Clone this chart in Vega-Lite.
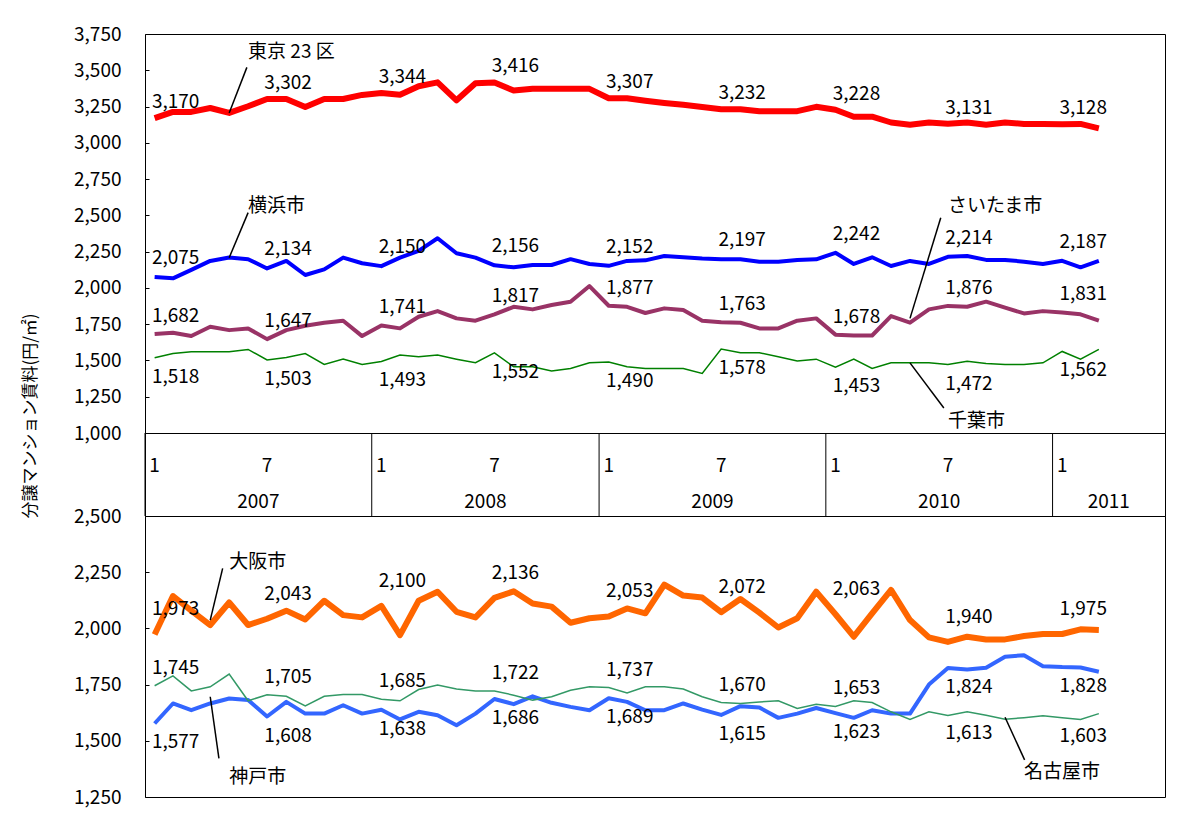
{
  "$schema": "https://vega.github.io/schema/vega-lite/v6.json",
  "background": "white",
  "padding": {"left": 22, "top": 24, "right": 5, "bottom": 5},
  "bounds": "flush",
  "spacing": 0,
  "title": {"text": "分譲マンション賃料(円/㎡)", "orient": "left", "anchor": "middle", "offset": 33, "fontSize": 17, "fontWeight": "normal", "font": "Noto Sans CJK JP", "color": "black"},
  "datasets": {
    "main": [
      {"d":"2007-01-01","tk":3170,"yk":2075,"sa":1682,"cb":1518,"os":1973,"ng":1745,"kb":1577},
      {"d":"2007-02-01","tk":3213,"yk":2066,"sa":1691,"cb":1548,"os":2144,"ng":1789,"kb":1666},
      {"d":"2007-03-01","tk":3213,"yk":2124,"sa":1668,"cb":1560,"os":2079,"ng":1722,"kb":1636},
      {"d":"2007-04-01","tk":3240,"yk":2186,"sa":1732,"cb":1560,"os":2015,"ng":1740,"kb":1666},
      {"d":"2007-05-01","tk":3206,"yk":2209,"sa":1709,"cb":1560,"os":2115,"ng":1797,"kb":1688},
      {"d":"2007-06-01","tk":3252,"yk":2198,"sa":1721,"cb":1576,"os":2015,"ng":1678,"kb":1681},
      {"d":"2007-07-01","tk":3302,"yk":2134,"sa":1647,"cb":1503,"os":2043,"ng":1705,"kb":1608},
      {"d":"2007-08-01","tk":3302,"yk":2186,"sa":1709,"cb":1520,"os":2079,"ng":1698,"kb":1673},
      {"d":"2007-09-01","tk":3247,"yk":2089,"sa":1739,"cb":1548,"os":2040,"ng":1655,"kb":1621},
      {"d":"2007-10-01","tk":3302,"yk":2128,"sa":1760,"cb":1472,"os":2123,"ng":1698,"kb":1621},
      {"d":"2007-11-01","tk":3302,"yk":2209,"sa":1774,"cb":1509,"os":2059,"ng":1706,"kb":1658},
      {"d":"2007-12-01","tk":3330,"yk":2170,"sa":1668,"cb":1472,"os":2049,"ng":1706,"kb":1621},
      {"d":"2008-01-01","tk":3344,"yk":2150,"sa":1741,"cb":1493,"os":2100,"ng":1685,"kb":1638},
      {"d":"2008-02-01","tk":3332,"yk":2209,"sa":1721,"cb":1537,"os":1970,"ng":1678,"kb":1595},
      {"d":"2008-03-01","tk":3390,"yk":2255,"sa":1801,"cb":1525,"os":2123,"ng":1728,"kb":1629},
      {"d":"2008-04-01","tk":3417,"yk":2342,"sa":1840,"cb":1537,"os":2163,"ng":1748,"kb":1614},
      {"d":"2008-05-01","tk":3293,"yk":2239,"sa":1790,"cb":1509,"os":2074,"ng":1730,"kb":1569},
      {"d":"2008-06-01","tk":3410,"yk":2209,"sa":1774,"cb":1484,"os":2049,"ng":1721,"kb":1621},
      {"d":"2008-07-01","tk":3416,"yk":2156,"sa":1817,"cb":1552,"os":2136,"ng":1722,"kb":1686},
      {"d":"2008-08-01","tk":3360,"yk":2142,"sa":1870,"cb":1456,"os":2165,"ng":1703,"kb":1663},
      {"d":"2008-09-01","tk":3372,"yk":2158,"sa":1852,"cb":1456,"os":2111,"ng":1681,"kb":1698},
      {"d":"2008-10-01","tk":3372,"yk":2158,"sa":1882,"cb":1428,"os":2097,"ng":1696,"kb":1669},
      {"d":"2008-11-01","tk":3372,"yk":2198,"sa":1905,"cb":1445,"os":2025,"ng":1725,"kb":1651},
      {"d":"2008-12-01","tk":3372,"yk":2165,"sa":2013,"cb":1484,"os":2045,"ng":1740,"kb":1636},
      {"d":"2009-01-01","tk":3307,"yk":2152,"sa":1877,"cb":1490,"os":2053,"ng":1737,"kb":1689},
      {"d":"2009-02-01","tk":3307,"yk":2186,"sa":1870,"cb":1456,"os":2089,"ng":1713,"kb":1673},
      {"d":"2009-03-01","tk":3290,"yk":2190,"sa":1827,"cb":1445,"os":2067,"ng":1740,"kb":1636},
      {"d":"2009-04-01","tk":3275,"yk":2220,"sa":1859,"cb":1445,"os":2195,"ng":1740,"kb":1636},
      {"d":"2009-05-01","tk":3262,"yk":2211,"sa":1847,"cb":1445,"os":2146,"ng":1730,"kb":1666},
      {"d":"2009-06-01","tk":3247,"yk":2202,"sa":1774,"cb":1410,"os":2137,"ng":1696,"kb":1639},
      {"d":"2009-07-01","tk":3232,"yk":2197,"sa":1763,"cb":1578,"os":2072,"ng":1670,"kb":1615},
      {"d":"2009-08-01","tk":3232,"yk":2197,"sa":1760,"cb":1553,"os":2131,"ng":1666,"kb":1654},
      {"d":"2009-09-01","tk":3218,"yk":2181,"sa":1721,"cb":1553,"os":2070,"ng":1673,"kb":1648},
      {"d":"2009-10-01","tk":3218,"yk":2181,"sa":1721,"cb":1525,"os":2004,"ng":1678,"kb":1602},
      {"d":"2009-11-01","tk":3218,"yk":2193,"sa":1774,"cb":1497,"os":2045,"ng":1644,"kb":1621},
      {"d":"2009-12-01","tk":3248,"yk":2197,"sa":1790,"cb":1509,"os":2163,"ng":1663,"kb":1646},
      {"d":"2010-01-01","tk":3228,"yk":2242,"sa":1678,"cb":1453,"os":2063,"ng":1653,"kb":1623},
      {"d":"2010-02-01","tk":3180,"yk":2165,"sa":1672,"cb":1509,"os":1963,"ng":1678,"kb":1602},
      {"d":"2010-03-01","tk":3180,"yk":2211,"sa":1672,"cb":1445,"os":2067,"ng":1670,"kb":1636},
      {"d":"2010-04-01","tk":3140,"yk":2151,"sa":1806,"cb":1484,"os":2171,"ng":1629,"kb":1621},
      {"d":"2010-05-01","tk":3125,"yk":2186,"sa":1760,"cb":1484,"os":2037,"ng":1595,"kb":1621},
      {"d":"2010-06-01","tk":3140,"yk":2165,"sa":1852,"cb":1484,"os":1960,"ng":1629,"kb":1750},
      {"d":"2010-07-01","tk":3131,"yk":2214,"sa":1876,"cb":1472,"os":1940,"ng":1613,"kb":1824},
      {"d":"2010-08-01","tk":3140,"yk":2220,"sa":1870,"cb":1495,"os":1963,"ng":1629,"kb":1817},
      {"d":"2010-09-01","tk":3125,"yk":2193,"sa":1905,"cb":1479,"os":1951,"ng":1614,"kb":1825},
      {"d":"2010-10-01","tk":3140,"yk":2193,"sa":1864,"cb":1472,"os":1951,"ng":1596,"kb":1874},
      {"d":"2010-11-01","tk":3130,"yk":2181,"sa":1824,"cb":1472,"os":1966,"ng":1603,"kb":1881},
      {"d":"2010-12-01","tk":3130,"yk":2165,"sa":1840,"cb":1484,"os":1975,"ng":1611,"kb":1832},
      {"d":"2011-01-01","tk":3128,"yk":2187,"sa":1831,"cb":1562,"os":1975,"ng":1603,"kb":1828},
      {"d":"2011-02-01","tk":3130,"yk":2142,"sa":1818,"cb":1509,"os":1996,"ng":1595,"kb":1826},
      {"d":"2011-03-01","tk":3100,"yk":2186,"sa":1774,"cb":1576,"os":1993,"ng":1621,"kb":1807}
    ],
    "years": [
      {"year":"2007","start":"2007-01-01","end":"2008-01-01"},
      {"year":"2008","start":"2008-01-01","end":"2009-01-01"},
      {"year":"2009","start":"2009-01-01","end":"2010-01-01"},
      {"year":"2010","start":"2010-01-01","end":"2011-01-01"},
      {"year":"2011","start":"2011-01-01","end":"2011-07-01"}
    ],
    "annTop": [
      {"t":"東京 23 区","d":"2007-06-13","v":3624,"d1":"2007-05-14","v1":3206,"d2":"2007-06-14","v2":3520},
      {"t":"横浜市","d":"2007-06-13","v":2567,"d1":"2007-05-19","v1":2208,"d2":"2007-06-16","v2":2519},
      {"t":"さいたま市","d":"2010-07-04","v":2567,"d1":"2010-05-01","v1":1790,"d2":"2010-07-05","v2":2484},
      {"t":"千葉市","d":"2010-07-16","v":1082,"d1":"2010-05-29","v1":1483,"d2":"2010-07-10","v2":1172}
    ],
    "annBot": [
      {"t":"大阪市","d":"2007-05-05","v":2297,"d1":"2007-04-04","v1":2037,"d2":"2007-05-06","v2":2267},
      {"t":"神戸市","d":"2007-05-06","v":1340,"d1":"2007-04-01","v1":1696,"d2":"2007-04-30","v2":1422},
      {"t":"名古屋市","d":"2010-11-12","v":1361,"d1":"2010-10-12","v1":1605,"d2":"2010-11-17","v2":1415}
    ]
  },
  "vconcat": [
    {
      "width": 1020,
      "height": 399,
      "data": {"name": "main"},
      "encoding": {
        "x": {"field": "d", "type": "temporal", "timeUnit": "utcyearmonth", "bandPosition": 0.5,
              "scale": {"type": "utc", "nice": false, "domain": [{"year": 2007, "month": 1, "date": 1, "utc": true}, {"year": 2011, "month": 7, "date": 1, "utc": true}]},
              "axis": null}
      },
      "layer": [
        {"mark": {"type": "line", "color": "#008000", "strokeWidth": 1.5},
         "encoding": {"y": {"field": "cb", "type": "quantitative",
           "scale": {"domain": [1000, 3750], "nice": false, "zero": false},
           "axis": {"values": [1000,1250,1500,1750,2000,2250,2500,2750,3000,3250,3500,3750], "format": ",.0f", "title": null, "ticks": false, "domain": false, "labelPadding": 24, "labelOverlap": false, "grid": true, "gridDash": [4, 3000], "gridColor": "black", "gridOpacity": 1, "gridWidth": 1}}}},
        {"mark": {"type": "line", "color": "#993366", "strokeWidth": 4, "strokeJoin": "round"},
         "encoding": {"y": {"field": "sa", "type": "quantitative", "axis": {"values": [1000,1250,1500,1750,2000,2250,2500,2750,3000,3250,3500,3750], "format": ",.0f", "title": null, "ticks": false, "domain": false, "labelPadding": 24, "labelOverlap": false, "grid": true, "gridDash": [4, 3000], "gridColor": "black", "gridOpacity": 1, "gridWidth": 1}}}},
        {"mark": {"type": "line", "color": "#0000FF", "strokeWidth": 4, "strokeJoin": "round"},
         "encoding": {"y": {"field": "yk", "type": "quantitative", "axis": {"values": [1000,1250,1500,1750,2000,2250,2500,2750,3000,3250,3500,3750], "format": ",.0f", "title": null, "ticks": false, "domain": false, "labelPadding": 24, "labelOverlap": false, "grid": true, "gridDash": [4, 3000], "gridColor": "black", "gridOpacity": 1, "gridWidth": 1}}}},
        {"mark": {"type": "line", "color": "#FF0000", "strokeWidth": 6, "strokeJoin": "round"},
         "encoding": {"y": {"field": "tk", "type": "quantitative", "axis": {"values": [1000,1250,1500,1750,2000,2250,2500,2750,3000,3250,3500,3750], "format": ",.0f", "title": null, "ticks": false, "domain": false, "labelPadding": 24, "labelOverlap": false, "grid": true, "gridDash": [4, 3000], "gridColor": "black", "gridOpacity": 1, "gridWidth": 1}}}},
        {"transform": [{"filter": "utcmonth(datum.d) == 0 || utcmonth(datum.d) == 6"}],
         "mark": {"type": "text", "dx": 21, "dy": -16},
         "encoding": {"y": {"field": "tk", "type": "quantitative", "axis": {"values": [1000,1250,1500,1750,2000,2250,2500,2750,3000,3250,3500,3750], "format": ",.0f", "title": null, "ticks": false, "domain": false, "labelPadding": 24, "labelOverlap": false, "grid": true, "gridDash": [4, 3000], "gridColor": "black", "gridOpacity": 1, "gridWidth": 1}}, "text": {"field": "tk", "format": ","}}},
        {"transform": [{"filter": "utcmonth(datum.d) == 0 || utcmonth(datum.d) == 6"}],
         "mark": {"type": "text", "dx": 21, "dy": -19},
         "encoding": {"y": {"field": "yk", "type": "quantitative", "axis": {"values": [1000,1250,1500,1750,2000,2250,2500,2750,3000,3250,3500,3750], "format": ",.0f", "title": null, "ticks": false, "domain": false, "labelPadding": 24, "labelOverlap": false, "grid": true, "gridDash": [4, 3000], "gridColor": "black", "gridOpacity": 1, "gridWidth": 1}}, "text": {"field": "yk", "format": ","}}},
        {"transform": [{"filter": "utcmonth(datum.d) == 0 || utcmonth(datum.d) == 6"}],
         "mark": {"type": "text", "dx": 21, "dy": -18},
         "encoding": {"y": {"field": "sa", "type": "quantitative", "axis": {"values": [1000,1250,1500,1750,2000,2250,2500,2750,3000,3250,3500,3750], "format": ",.0f", "title": null, "ticks": false, "domain": false, "labelPadding": 24, "labelOverlap": false, "grid": true, "gridDash": [4, 3000], "gridColor": "black", "gridOpacity": 1, "gridWidth": 1}}, "text": {"field": "sa", "format": ","}}},
        {"transform": [{"filter": "utcmonth(datum.d) == 0 || utcmonth(datum.d) == 6"}],
         "mark": {"type": "text", "dx": 21, "dy": 19},
         "encoding": {"y": {"field": "cb", "type": "quantitative", "axis": {"values": [1000,1250,1500,1750,2000,2250,2500,2750,3000,3250,3500,3750], "format": ",.0f", "title": null, "ticks": false, "domain": false, "labelPadding": 24, "labelOverlap": false, "grid": true, "gridDash": [4, 3000], "gridColor": "black", "gridOpacity": 1, "gridWidth": 1}}, "text": {"field": "cb", "format": ","}}},
        {"data": {"name": "annTop"},
         "mark": {"type": "rule", "color": "black", "strokeWidth": 1.5},
         "encoding": {"x": {"field": "d1", "type": "temporal"}, "x2": {"field": "d2"}, "y": {"field": "v1", "type": "quantitative", "axis": {"values": [1000,1250,1500,1750,2000,2250,2500,2750,3000,3250,3500,3750], "format": ",.0f", "title": null, "ticks": false, "domain": false, "labelPadding": 24, "labelOverlap": false, "grid": true, "gridDash": [4, 3000], "gridColor": "black", "gridOpacity": 1, "gridWidth": 1}}, "y2": {"field": "v2"}}},
        {"data": {"name": "annTop"},
         "mark": {"type": "text", "align": "left", "baseline": "middle"},
         "encoding": {"x": {"field": "d", "type": "temporal"}, "y": {"field": "v", "type": "quantitative", "axis": {"values": [1000,1250,1500,1750,2000,2250,2500,2750,3000,3250,3500,3750], "format": ",.0f", "title": null, "ticks": false, "domain": false, "labelPadding": 24, "labelOverlap": false, "grid": true, "gridDash": [4, 3000], "gridColor": "black", "gridOpacity": 1, "gridWidth": 1}}, "text": {"field": "t"}}}
      ]
    },
    {
      "width": 1020,
      "height": 83,
      "layer": [
        {"data": {"name": "years"},
         "mark": {"type": "rule", "color": "black", "strokeWidth": 1},
         "encoding": {"x": {"field": "start", "type": "temporal",
           "scale": {"type": "utc", "nice": false, "domain": [{"year": 2007, "month": 1, "date": 1, "utc": true}, {"year": 2011, "month": 7, "date": 1, "utc": true}]},
           "axis": null}}},
        {"data": {"name": "years"},
         "transform": [{"calculate": "(time(datum.start) + time(datum.end)) / 2", "as": "mid"}],
         "mark": {"type": "text", "baseline": "middle"},
         "encoding": {"x": {"field": "mid", "type": "temporal"},
           "y": {"datum": "year", "type": "nominal", "scale": {"type": "point", "domain": ["month", "year"], "range": [33, 69], "padding": 0}, "axis": null},
           "text": {"field": "year"}}},
        {"data": {"name": "main"},
         "transform": [{"filter": "utcmonth(datum.d) == 0 || utcmonth(datum.d) == 6"}, {"calculate": "utcmonth(datum.d) + 1", "as": "mlabel"}],
         "mark": {"type": "text", "baseline": "middle"},
         "encoding": {"x": {"field": "d", "type": "temporal", "timeUnit": "utcyearmonth", "bandPosition": 0.5},
           "y": {"datum": "month", "type": "nominal", "axis": null},
           "text": {"field": "mlabel"}}}
      ]
    },
    {
      "width": 1020,
      "height": 281,
      "data": {"name": "main"},
      "encoding": {
        "x": {"field": "d", "type": "temporal", "timeUnit": "utcyearmonth", "bandPosition": 0.5,
              "scale": {"type": "utc", "nice": false, "domain": [{"year": 2007, "month": 1, "date": 1, "utc": true}, {"year": 2011, "month": 7, "date": 1, "utc": true}]},
              "axis": null}
      },
      "layer": [
        {"mark": {"type": "line", "color": "#FF6600", "strokeWidth": 6, "strokeJoin": "round"},
         "encoding": {"y": {"field": "os", "type": "quantitative",
           "scale": {"domain": [1250, 2500], "nice": false, "zero": false},
           "axis": {"values": [1250,1500,1750,2000,2250,2500], "format": ",.0f", "title": null, "ticks": false, "domain": false, "labelPadding": 24, "labelOverlap": false, "grid": true, "gridDash": [4, 3000], "gridColor": "black", "gridOpacity": 1, "gridWidth": 1}}}},
        {"mark": {"type": "line", "color": "#3366FF", "strokeWidth": 4, "strokeJoin": "round"},
         "encoding": {"y": {"field": "kb", "type": "quantitative", "axis": {"values": [1250,1500,1750,2000,2250,2500], "format": ",.0f", "title": null, "ticks": false, "domain": false, "labelPadding": 24, "labelOverlap": false, "grid": true, "gridDash": [4, 3000], "gridColor": "black", "gridOpacity": 1, "gridWidth": 1}}}},
        {"mark": {"type": "line", "color": "#339966", "strokeWidth": 1.5},
         "encoding": {"y": {"field": "ng", "type": "quantitative", "axis": {"values": [1250,1500,1750,2000,2250,2500], "format": ",.0f", "title": null, "ticks": false, "domain": false, "labelPadding": 24, "labelOverlap": false, "grid": true, "gridDash": [4, 3000], "gridColor": "black", "gridOpacity": 1, "gridWidth": 1}}}},
        {"transform": [{"filter": "utcmonth(datum.d) == 0 || utcmonth(datum.d) == 6"}],
         "mark": {"type": "text", "dx": 21, "dy": -25},
         "encoding": {"y": {"field": "os", "type": "quantitative", "axis": {"values": [1250,1500,1750,2000,2250,2500], "format": ",.0f", "title": null, "ticks": false, "domain": false, "labelPadding": 24, "labelOverlap": false, "grid": true, "gridDash": [4, 3000], "gridColor": "black", "gridOpacity": 1, "gridWidth": 1}}, "text": {"field": "os", "format": ","}}},
        {"transform": [{"filter": "utcmonth(datum.d) == 0 || utcmonth(datum.d) == 6"}],
         "mark": {"type": "text", "dx": 21, "dy": 19},
         "encoding": {"y": {"field": "kb", "type": "quantitative", "axis": {"values": [1250,1500,1750,2000,2250,2500], "format": ",.0f", "title": null, "ticks": false, "domain": false, "labelPadding": 24, "labelOverlap": false, "grid": true, "gridDash": [4, 3000], "gridColor": "black", "gridOpacity": 1, "gridWidth": 1}}, "text": {"field": "kb", "format": ","}}},
        {"transform": [{"filter": "(utcmonth(datum.d) == 0 || utcmonth(datum.d) == 6) && time(datum.d) < utc(2010, 6, 1)"}],
         "mark": {"type": "text", "dx": 21, "dy": -18},
         "encoding": {"y": {"field": "ng", "type": "quantitative", "axis": {"values": [1250,1500,1750,2000,2250,2500], "format": ",.0f", "title": null, "ticks": false, "domain": false, "labelPadding": 24, "labelOverlap": false, "grid": true, "gridDash": [4, 3000], "gridColor": "black", "gridOpacity": 1, "gridWidth": 1}}, "text": {"field": "ng", "format": ","}}},
        {"transform": [{"filter": "(utcmonth(datum.d) == 0 || utcmonth(datum.d) == 6) && time(datum.d) >= utc(2010, 6, 1)"}],
         "mark": {"type": "text", "dx": 21, "dy": 18},
         "encoding": {"y": {"field": "ng", "type": "quantitative", "axis": {"values": [1250,1500,1750,2000,2250,2500], "format": ",.0f", "title": null, "ticks": false, "domain": false, "labelPadding": 24, "labelOverlap": false, "grid": true, "gridDash": [4, 3000], "gridColor": "black", "gridOpacity": 1, "gridWidth": 1}}, "text": {"field": "ng", "format": ","}}},
        {"data": {"name": "annBot"},
         "mark": {"type": "rule", "color": "black", "strokeWidth": 1.5},
         "encoding": {"x": {"field": "d1", "type": "temporal"}, "x2": {"field": "d2"}, "y": {"field": "v1", "type": "quantitative", "axis": {"values": [1250,1500,1750,2000,2250,2500], "format": ",.0f", "title": null, "ticks": false, "domain": false, "labelPadding": 24, "labelOverlap": false, "grid": true, "gridDash": [4, 3000], "gridColor": "black", "gridOpacity": 1, "gridWidth": 1}}, "y2": {"field": "v2"}}},
        {"data": {"name": "annBot"},
         "mark": {"type": "text", "align": "left", "baseline": "middle"},
         "encoding": {"x": {"field": "d", "type": "temporal"}, "y": {"field": "v", "type": "quantitative", "axis": {"values": [1250,1500,1750,2000,2250,2500], "format": ",.0f", "title": null, "ticks": false, "domain": false, "labelPadding": 24, "labelOverlap": false, "grid": true, "gridDash": [4, 3000], "gridColor": "black", "gridOpacity": 1, "gridWidth": 1}}, "text": {"field": "t"}}}
      ]
    }
  ],
  "config": {
    "view": {"stroke": "black", "strokeWidth": 1},
    "font": "Noto Sans CJK JP",
    "text": {"font": "Noto Sans CJK JP", "fontSize": 19, "color": "black"},
    "axis": {"labelFont": "Noto Sans CJK JP", "labelFontSize": 19, "labelColor": "black"}
  }
}
